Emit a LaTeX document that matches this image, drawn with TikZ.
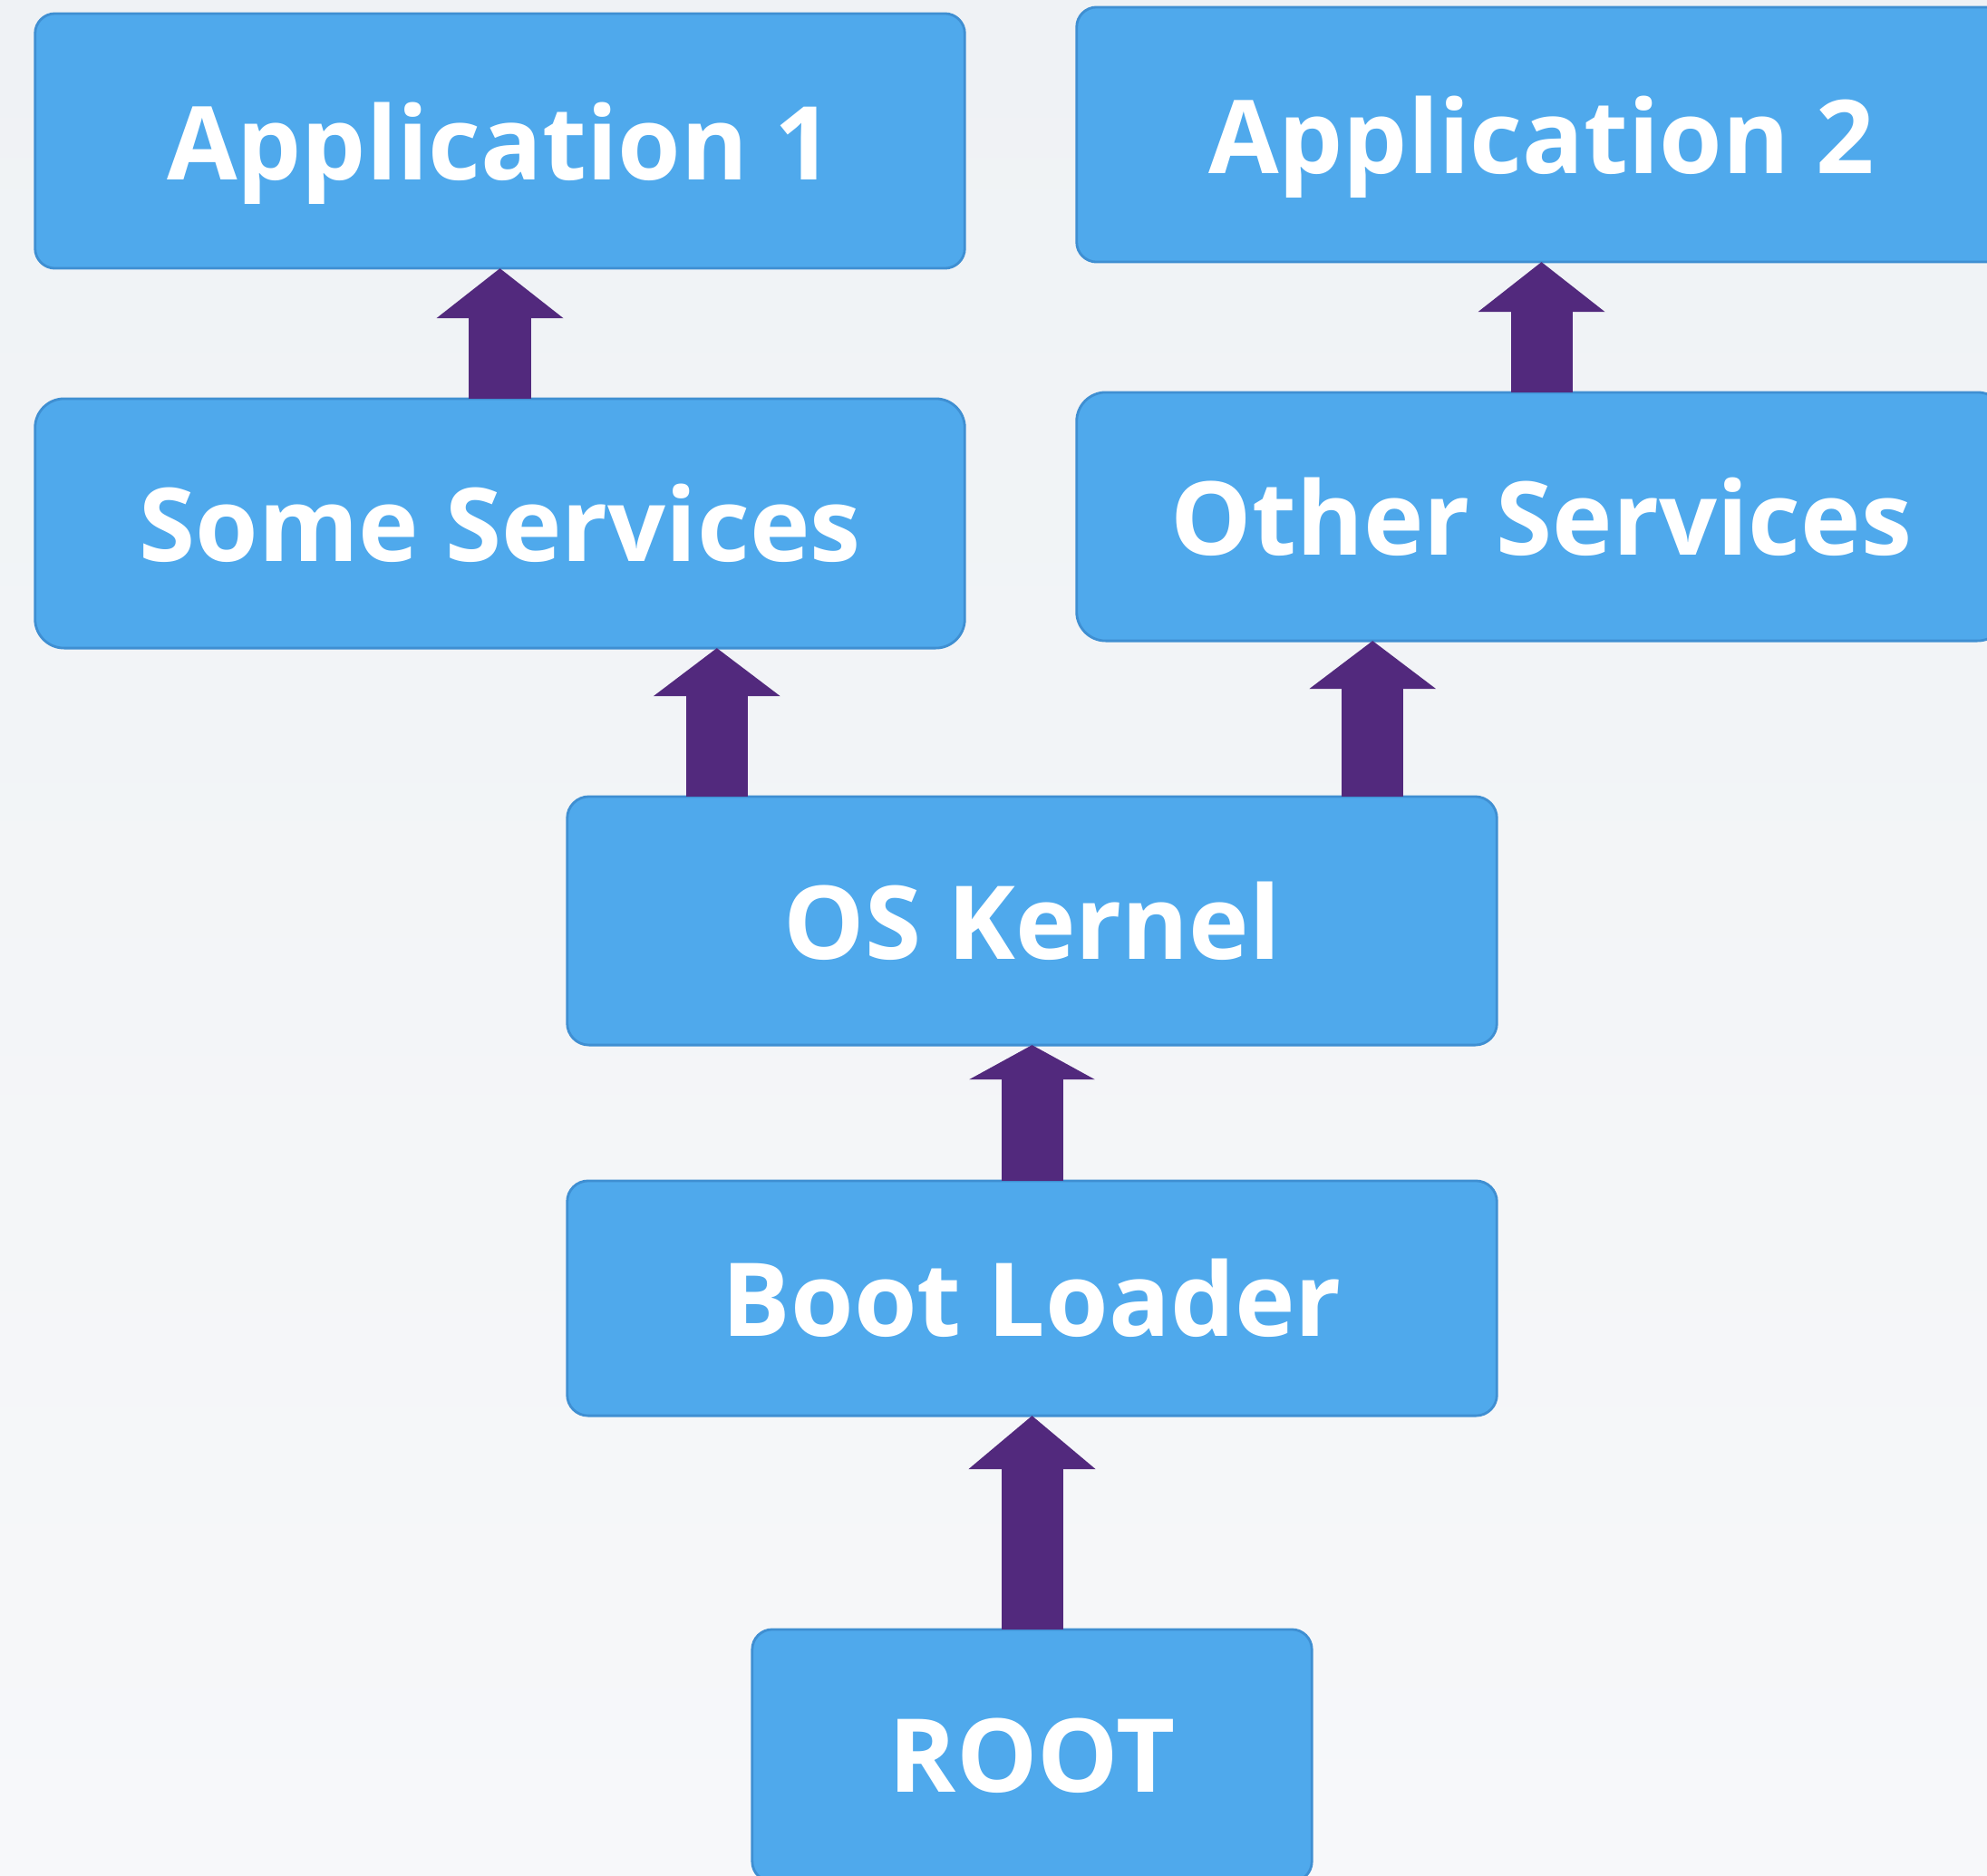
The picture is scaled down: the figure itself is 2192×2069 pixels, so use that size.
\documentclass[tikz,border=0pt]{standalone}
\usepackage{fontspec}
\setmainfont{Open Sans}
\usetikzlibrary{arrows.meta}
\definecolor{boxblue}{HTML}{4FA9EC}
\definecolor{boxline}{HTML}{3F8FD2}
\definecolor{arrowc}{HTML}{52297D}
\definecolor{bgtop}{HTML}{EFF2F5}
\definecolor{bgbot}{HTML}{F7F8FA}
\newcommand{\lowtext}[1]{\raisebox{0pt}[\dimexpr\height+0.28cm][\depth]{#1}}
\begin{document}
\begin{tikzpicture}[x=0.01cm,y=-0.01cm,
    box/.style={draw=boxline,line width=0.8pt,fill=boxblue,rounded corners=0.24cm,
        minimum width=10.25cm,inner sep=0pt,outer sep=0pt,text=white,
        font=\fontsize{32}{38}\selectfont\bfseries},
    fat/.style={arrowc,line width=0.68cm,-{Triangle[length=#1,width=1.37cm]}},
    fat/.default=0.55cm]
    \useasboundingbox (0,0) rectangle (2192,2069);
    \shade[top color=bgtop,bottom color=bgbot] (0,0) rectangle (2192,2069);
    \node[box,minimum height=2.81cm,rounded corners=0.22cm] (app1) at (551.5,155.5) {\lowtext{Application 1}};
    \node[box,minimum height=2.81cm,rounded corners=0.22cm] (app2) at (1700.5,148.5) {\lowtext{Application 2}};
    \node[box,minimum height=2.75cm,rounded corners=0.32cm] (some) at (551.5,577.5) {Some Services};
    \node[box,minimum height=2.74cm,rounded corners=0.32cm] (other) at (1700.5,570) {Other Services};
    \node[box,minimum height=2.74cm] (kern) at (1138.5,1016) {OS Kernel};
    \node[box,minimum height=2.59cm,rounded corners=0.23cm] (boot) at (1138.5,1432.5) {Boot Loader};
    \node[box,minimum width=6.17cm,minimum height=2.78cm,rounded corners=0.22cm] (root) at (1138.5,1937) {ROOT};
    \draw[fat=0.59cm] (root) -- (boot);
    \draw[fat=0.38cm] (boot) -- (kern);
    \draw[fat=0.53cm] ([xshift=-3.475cm]kern.north) -- ([xshift=-3.475cm]kern.north |- some.south);
    \draw[fat=0.53cm] ([xshift=3.755cm]kern.north) -- ([xshift=3.755cm]kern.north |- other.south);
    \draw[fat] (some) -- (app1);
    \draw[fat] (other) -- (app2);
\end{tikzpicture}
\end{document}
